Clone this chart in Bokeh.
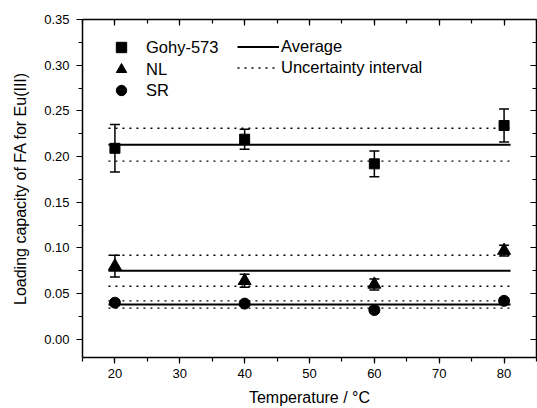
from bokeh.plotting import figure
from bokeh.models import (Range1d, LinearAxis, SingleIntervalTicker, NumeralTickFormatter,
                          Whisker, TeeHead, ColumnDataSource, Legend, LegendItem)
from bokeh.embed import file_html
from bokeh.resources import INLINE

# ---- data ----
temps = [20, 40, 60, 80]
gohy = [0.209, 0.219, 0.192, 0.234]
gohy_err = [0.026, 0.011, 0.014, 0.018]
nl = [0.080, 0.064, 0.060, 0.097]
nl_err = [0.012, 0.007, 0.006, 0.006]
sr = [0.040, 0.039, 0.032, 0.042]
sr_err = [0.003, 0.003, 0.003, 0.003]

series_names = ["Gohy-573", "NL", "SR"]
averages = [0.213, 0.075, 0.038]
interval_low = [0.195, 0.058, 0.034]
interval_high = [0.231, 0.092, 0.042]
line_extent = [19, 81]

FONT = "Liberation Sans"

p = figure(frame_width=454, frame_height=338, output_backend="svg", toolbar_location=None,
           x_range=Range1d(15, 85.0001), y_range=Range1d(-0.02, 0.35001),
           min_border_left=82, min_border_right=1, min_border_top=19, min_border_bottom=51)
p.xgrid.visible = False
p.ygrid.visible = False
p.outline_line_color = None
p.background_fill_color = "white"
p.border_fill_color = "white"

xt = SingleIntervalTicker(interval=10, num_minor_ticks=2)
yt = SingleIntervalTicker(interval=0.05, num_minor_ticks=2)

def style_axis(ax):
    ax.axis_line_color = "black"
    ax.axis_line_width = 1.5
    ax.major_tick_line_color = "black"
    ax.minor_tick_line_color = "black"
    ax.major_tick_line_width = 1.2
    ax.minor_tick_line_width = 1.2
    ax.major_label_text_font = FONT
    ax.major_label_text_font_size = "13px"
    ax.major_label_text_color = "black"
    ax.axis_label_text_font = FONT
    ax.axis_label_text_font_size = "16px"
    ax.axis_label_text_font_style = "normal"
    ax.axis_label_text_color = "black"

xa = p.xaxis[0]
xa.ticker = xt
style_axis(xa)
xa.major_tick_out = 6
xa.major_tick_in = 0
xa.minor_tick_out = 4
xa.minor_tick_in = 0
xa.major_label_standoff = 5
xa.axis_label = "Temperature / °C"
xa.axis_label_standoff = 8

ya = p.yaxis[0]
ya.ticker = yt
ya.formatter = NumeralTickFormatter(format="0.00")
style_axis(ya)
ya.major_tick_out = 6
ya.major_tick_in = 0
ya.minor_tick_out = 4
ya.minor_tick_in = 0
ya.major_label_standoff = 7
ya.axis_label = "Loading capacity of FA for Eu(III)"
ya.axis_label_standoff = 12

top = LinearAxis(ticker=xt)
right = LinearAxis(ticker=yt)
for ax in (top, right):
    style_axis(ax)
    ax.major_label_text_font_size = "1px"
    ax.major_label_text_color = None
    ax.major_label_standoff = 0
    ax.major_tick_out = 0
    ax.major_tick_in = 6
    ax.minor_tick_out = 0
    ax.minor_tick_in = 4
p.add_layout(top, "above")
p.add_layout(right, "right")

# averages and uncertainty intervals
avg_r = p.multi_line(xs=[line_extent] * 3, ys=[[a, a] for a in averages],
                     line_color="black", line_width=2)
unc_r = p.multi_line(xs=[line_extent] * 6,
                     ys=[[v, v] for v in interval_low + interval_high],
                     line_color="black", line_width=1.4, line_dash="2 5")

marker_renderers = []
for vals, errs, marker, size in [(gohy, gohy_err, "square", 10),
                                 (nl, nl_err, "triangle", 13),
                                 (sr, sr_err, "circle", 11)]:
    src = ColumnDataSource(dict(x=temps, y=vals,
                                lo=[v - e for v, e in zip(vals, errs)],
                                hi=[v + e for v, e in zip(vals, errs)]))
    w = Whisker(source=src, base="x", lower="lo", upper="hi", dimension="height",
                line_color="black", line_width=1.5,
                lower_head=TeeHead(size=10, line_color="black", line_width=1.5),
                upper_head=TeeHead(size=10, line_color="black", line_width=1.5))
    p.add_layout(w)
    r = p.scatter("x", "y", source=src, marker=marker, size=size,
                  fill_color="black", line_color="black")
    marker_renderers.append(r)

# marker legend: one single-item legend per row so rows can sit closer than the glyph box
legend_rows_y = [297, 275, 254]
for name, r, ly in zip(series_names, marker_renderers, legend_rows_y):
    leg = Legend(items=[LegendItem(label=name, renderers=[r])],
                 location=(26, ly), glyph_width=26, glyph_height=26, label_height=21, spacing=0,
                 padding=0, margin=0, label_standoff=12, border_line_color=None,
                 background_fill_alpha=0, label_text_font=FONT, label_text_font_size="16.5px",
                 label_text_color="black")
    p.add_layout(leg)

leg2 = Legend(items=[LegendItem(label="Average", renderers=[avg_r]),
                     LegendItem(label="Uncertainty interval", renderers=[unc_r])],
              location=(155, 279), glyph_width=42, glyph_height=21, label_height=21, spacing=0,
              padding=0, margin=0, label_standoff=2, border_line_color=None,
              background_fill_alpha=0, label_text_font=FONT, label_text_font_size="16.5px",
              label_text_color="black")
p.add_layout(leg2)

open("out.html", "w").write(file_html(p, INLINE))
